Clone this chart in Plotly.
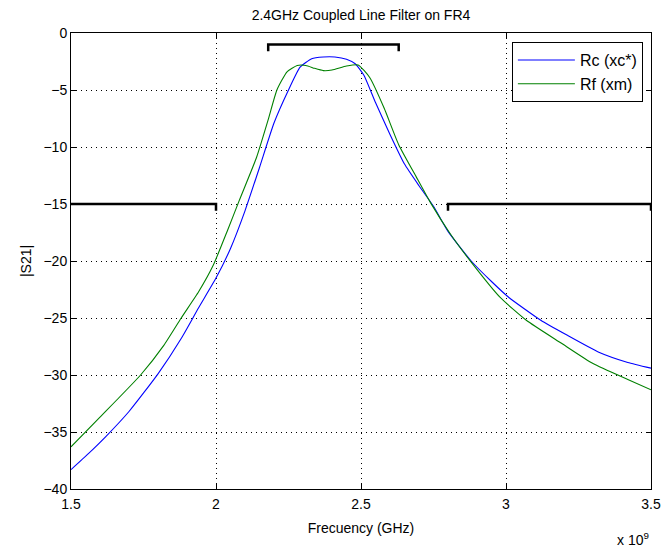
import plotly.graph_objects as go

# Rc (xc*) – blue
f_rc = [1.50, 1.56, 1.62, 1.70, 1.80, 1.88, 1.94, 2.00, 2.05, 2.10, 2.15, 2.20, 2.25, 2.29,
        2.33, 2.37, 2.41, 2.45, 2.48, 2.51, 2.55, 2.60, 2.65, 2.70, 2.75, 2.80, 2.88, 2.95,
        3.01, 3.12, 3.21, 3.32, 3.42, 3.50]
s_rc = [-38.3, -36.9, -35.4, -33.2, -29.9, -26.8, -24.1, -21.5, -18.9, -15.6, -11.8, -7.9, -5.0, -3.0,
        -2.25, -2.1, -2.1, -2.3, -2.7, -3.7, -6.1, -8.9, -11.5, -13.4, -15.2, -17.4, -20.0, -21.8,
        -23.2, -25.2, -26.5, -28.0, -28.9, -29.4]

# Rf (xm) – green
f_rf = [1.50, 1.60, 1.74, 1.82, 1.88, 1.94, 1.99, 2.04, 2.08, 2.14, 2.18, 2.21, 2.245, 2.28,
        2.31, 2.34, 2.37, 2.40, 2.45, 2.49, 2.53, 2.58, 2.63, 2.69, 2.74, 2.81, 2.88, 2.98,
        3.07, 3.19, 3.30, 3.42, 3.50]
s_rf = [-36.3, -33.7, -30.0, -27.4, -25.0, -22.7, -20.4, -17.3, -14.7, -10.9, -7.6, -5.0, -3.4, -2.85,
        -2.85, -3.1, -3.3, -3.25, -2.9, -2.8, -3.9, -6.6, -9.8, -12.6, -14.9, -17.7, -20.1, -23.2,
        -25.2, -27.2, -29.0, -30.4, -31.3]

# Specification masks
mask_pass_x = [2.18, 2.18, 2.63, 2.63]
mask_pass_y = [-1.6, -1.0, -1.0, -1.6]
mask_low_x = [1.5, 2.0, 2.0]
mask_low_y = [-15.0, -15.0, -15.6]
mask_high_x = [2.8, 2.8, 3.5, 3.5]
mask_high_y = [-15.6, -15.0, -15.0, -15.6]

x_ticks = [1.5, 2.0, 2.5, 3.0, 3.5]
x_ticktext = ["1.5", "2", "2.5", "3", "3.5"]
y_ticks = [0, -5, -10, -15, -20, -25, -30, -35, -40]

FONT = "Liberation Sans, Arial, sans-serif"

fig = go.Figure()
for mx, my in [(mask_pass_x, mask_pass_y), (mask_low_x, mask_low_y), (mask_high_x, mask_high_y)]:
    fig.add_trace(go.Scatter(x=mx, y=my, mode="lines", line=dict(color="black", width=2.5),
                             showlegend=False, hoverinfo="skip"))

fig.add_trace(go.Scatter(x=f_rc, y=s_rc, mode="lines", name="Rc (xc*)",
                         line=dict(color="#0000ff", width=1.1, shape="spline", smoothing=0.5)))
fig.add_trace(go.Scatter(x=f_rf, y=s_rf, mode="lines", name="Rf (xm)",
                         line=dict(color="#008000", width=1.1, shape="spline", smoothing=0.5)))

axis_common = dict(showline=True, linecolor="black", linewidth=1, mirror="ticks",
                   ticks="inside", ticklen=5, tickcolor="black", automargin=False,
                   showgrid=True, gridcolor="black", gridwidth=1, griddash="1px,4px",
                   zeroline=False, tickfont=dict(family=FONT, size=14, color="black"))

fig.update_xaxes(range=[1.5, 3.5], tickvals=x_ticks, ticktext=x_ticktext, ticklabelstandoff=2,
                 title=dict(text="Frecuency (GHz)", font=dict(family=FONT, size=14, color="black"),
                            standoff=12), **axis_common)
fig.update_yaxes(range=[-40, 0], tickvals=y_ticks,
                 title=dict(text="|S21|", font=dict(family=FONT, size=14, color="black"),
                            standoff=8), **axis_common)

fig.add_annotation(text="x 10<sup>9</sup>", xref="paper", yref="paper", x=1.0, y=-0.085,
                   xanchor="right", yanchor="top", showarrow=False,
                   font=dict(family=FONT, size=14, color="black"))

fig.update_layout(
    width=662, height=552,
    margin=dict(l=71, r=11, t=33, b=63, autoexpand=False),
    paper_bgcolor="white", plot_bgcolor="white",
    title=dict(text="2.4GHz Coupled Line Filter on FR4", x=0.5, xanchor="center",
               y=1 - 15 / 552, yanchor="middle", xref="paper", automargin=False,
               font=dict(family=FONT, size=14, color="black")),
    legend=dict(x=0.986, y=0.98, xanchor="right", yanchor="top",
                bgcolor="white", bordercolor="black", borderwidth=1,
                font=dict(family=FONT, size=16, color="black"),
                itemwidth=57, tracegroupgap=0),
    showlegend=True,
)

fig.write_html("out.html")
